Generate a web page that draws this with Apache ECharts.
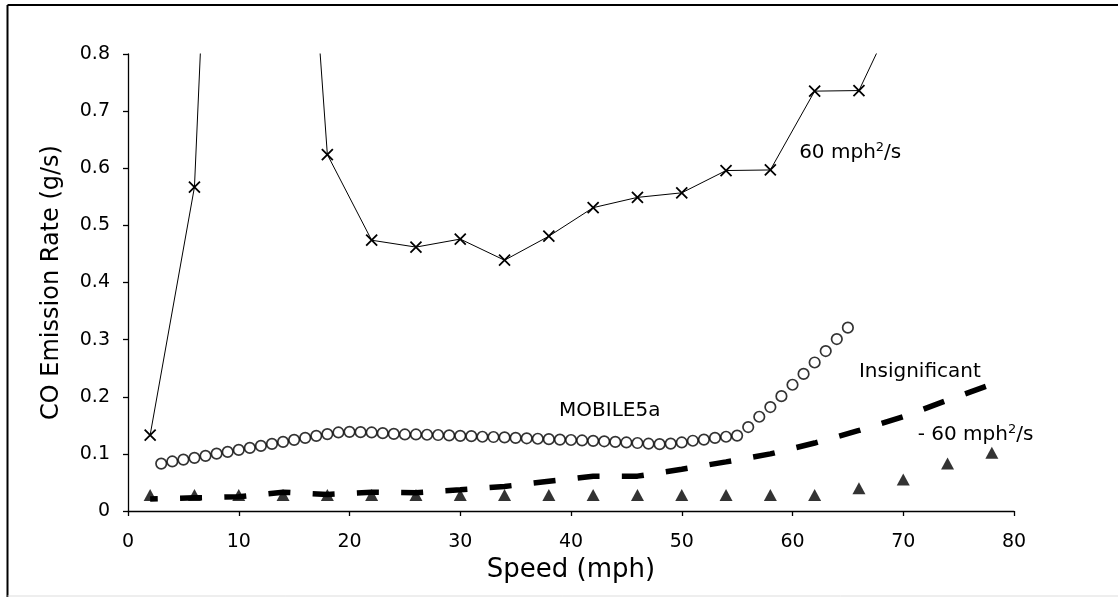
<!DOCTYPE html>
<html>
<head>
<meta charset="utf-8">
<script src="https://cdn.jsdelivr.net/npm/echarts@6/dist/echarts.min.js"></script>
<style>
html,body{margin:0;padding:0;background:#fff;}
#chart{width:1118px;height:597px;}
</style>
</head>
<body>
<div id="chart"></div>
<script>
// ---- Data ----
// 60 mph^2/s acceleration series (values above 0.8 are clipped by the axis)
const accelSpeeds = [2, 6, 10, 14, 18, 22, 26, 30, 34, 38, 42, 46, 50, 54, 58, 62, 66, 70];
const accelValues = [0.133, 0.567, 2.33, 1.71, 0.624, 0.474, 0.462, 0.476, 0.439, 0.481, 0.531, 0.549, 0.557, 0.596, 0.597, 0.735, 0.736, 0.90];

// MOBILE5a
const mobileSpeeds = [3,4,5,6,7,8,9,10,11,12,13,14,15,16,17,18,19,20,21,22,23,24,25,26,27,28,29,30,31,32,33,34,35,36,37,38,39,40,41,42,43,44,45,46,47,48,49,50,51,52,53,54,55,56,57,58,59,60,61,62,63,64,65];
const mobileValues = [0.083,0.0867,0.090,0.093,0.0965,0.1005,0.1035,0.107,0.1105,0.114,0.1175,0.121,0.1246,0.128,0.1316,0.1346,0.1375,0.1386,0.138,0.1375,0.1363,0.135,0.134,0.134,0.1335,0.133,0.1323,0.1316,0.131,0.130,0.1295,0.1288,0.128,0.1273,0.1265,0.1258,0.125,0.1243,0.1235,0.1228,0.122,0.121,0.120,0.119,0.1178,0.117,0.118,0.120,0.123,0.125,0.128,0.130,0.132,0.147,0.165,0.182,0.201,0.221,0.240,0.260,0.280,0.301,0.321];

// Insignificant acceleration (dashed)
const insigSpeeds = [2, 6, 10, 14, 18, 22, 26, 30, 34, 38, 42, 46, 50, 54, 58, 62, 66, 70, 74, 78];
const insigValues = [0.021, 0.023, 0.025, 0.033, 0.029, 0.033, 0.032, 0.037, 0.043, 0.052, 0.061, 0.061, 0.073, 0.086, 0.100, 0.119, 0.141, 0.165, 0.194, 0.222];

// -60 mph^2/s deceleration (triangles)
const decelSpeeds = [2, 6, 10, 14, 18, 22, 26, 30, 34, 38, 42, 46, 50, 54, 58, 62, 66, 70, 74, 78];
const decelValues = [0.028, 0.028, 0.028, 0.028, 0.028, 0.028, 0.028, 0.028, 0.028, 0.028, 0.028, 0.028, 0.028, 0.028, 0.028, 0.028, 0.040, 0.055, 0.083, 0.102];

// axis ticks
const xTicks = [0, 10, 20, 30, 40, 50, 60, 70, 80];
const yTicks = [0, 0.1, 0.2, 0.3, 0.4, 0.5, 0.6, 0.7, 0.8];

// annotation anchors (data coords)
const notes = [
  {name: 'accel', x: 60.6, y: 0.6275},
  {name: 'mobile', x: 43.5, y: 0.175},
  {name: 'insig', x: 71.5, y: 0.244},
  {name: 'decel', x: 71.3, y: 0.133}
];

const zip = (a, b) => a.map((v, i) => [v, b[i]]);
const FONT = 'DejaVu Sans';

const chart = echarts.init(document.getElementById('chart'), null, {renderer: 'canvas'});

const option = {
  backgroundColor: '#fff',
  animation: false,
  textStyle: {fontFamily: FONT},
  grid: {left: 128, right: 104, top: 54, bottom: 86, containLabel: false},
  xAxis: {
    type: 'value', min: xTicks[0], max: xTicks[xTicks.length - 1], interval: 10,
    name: 'Speed (mph)', nameLocation: 'middle', nameGap: 40,
    nameTextStyle: {fontFamily: FONT, fontSize: 26, color: '#000'},
    axisLine: {show: true, onZero: false, lineStyle: {color: '#000', width: 1.3}},
    axisTick: {show: true, length: 5, lineStyle: {color: '#000', width: 1.3}},
    axisLabel: {fontFamily: FONT, fontSize: 19, color: '#000', margin: 22},
    splitLine: {show: false}
  },
  yAxis: {
    type: 'value', min: yTicks[0], max: yTicks[yTicks.length - 1], interval: 0.1,
    name: 'CO Emission Rate (g/s)', nameLocation: 'middle', nameGap: 64, nameRotate: 90,
    nameTextStyle: {fontFamily: FONT, fontSize: 24, color: '#000'},
    axisLine: {show: true, onZero: false, lineStyle: {color: '#000', width: 1.3}},
    axisTick: {show: true, length: 5, lineStyle: {color: '#000', width: 1.3}},
    axisLabel: {fontFamily: FONT, fontSize: 19, color: '#000', margin: 18,
      formatter: v => (Math.round(v * 10) / 10).toString()},
    splitLine: {show: false}
  },
  series: [
    {
      name: 'Insignificant', type: 'line', data: zip(insigSpeeds, insigValues),
      showSymbol: false, symbol: 'none', clip: true, z: 2,
      lineStyle: {color: '#000', width: 5.5, type: [22, 22.3], dashOffset: 14.4, cap: 'butt'}
    },
    {
      name: '60 mph2/s', type: 'line', data: zip(accelSpeeds, accelValues),
      symbol: 'path://M0,0L10,10M10,0L0,10', symbolSize: 11, clip: true, z: 3,
      lineStyle: {color: '#000', width: 1},
      itemStyle: {color: 'none', borderColor: '#000', borderWidth: 1.8}
    },
    {
      name: 'MOBILE5a', type: 'scatter', data: zip(mobileSpeeds, mobileValues),
      symbol: 'circle', symbolSize: 10.5, z: 4,
      itemStyle: {color: '#fff', borderColor: '#000', borderWidth: 1.7}
    },
    {
      name: '-60 mph2/s', type: 'scatter', data: zip(decelSpeeds, decelValues),
      symbol: 'triangle', symbolSize: [13, 12], z: 5,
      itemStyle: {color: '#000'}
    }
  ]
};
chart.setOption(option);

function px(n) { return chart.convertToPixel({gridIndex: 0}, [n.x, n.y]); }
const p = {};
notes.forEach(n => p[n.name] = px(n));
const rich = {
  b: {fontFamily: FONT, fontSize: 20, fill: '#000'},
  sup: {fontFamily: FONT, fontSize: 13, verticalAlign: 'top', padding: [0, 0, 10, 0], fill: '#000'}
};
chart.setOption({
  graphic: [
    {type: 'line', shape: {x1: 7.5, y1: 5, x2: 1118, y2: 5}, style: {stroke: '#000', lineWidth: 2}, z: 10},
    {type: 'line', shape: {x1: 7.5, y1: 5, x2: 7.5, y2: 597}, style: {stroke: '#000', lineWidth: 2}, z: 10},
    {type: 'line', shape: {x1: 7.5, y1: 596, x2: 1118, y2: 596}, style: {stroke: '#dddddd', lineWidth: 1}, z: 10},
    {type: 'text', x: p.accel[0], y: p.accel[1], z: 10,
      style: {text: '{b|60 mph}{sup|2}{b|/s}', rich: rich, align: 'left', verticalAlign: 'middle', font: '20px ' + FONT}},
    {type: 'text', x: p.mobile[0], y: p.mobile[1], z: 10,
      style: {text: 'MOBILE5a', font: '20px ' + FONT, fill: '#000', align: 'center', verticalAlign: 'middle'}},
    {type: 'text', x: p.insig[0], y: p.insig[1], z: 10,
      style: {text: 'Insignificant', font: '20px ' + FONT, fill: '#000', align: 'center', verticalAlign: 'middle'}},
    {type: 'text', x: p.decel[0], y: p.decel[1], z: 10,
      style: {text: '{b|- 60 mph}{sup|2}{b|/s}', rich: rich, align: 'left', verticalAlign: 'middle', font: '20px ' + FONT}}
  ]
});
</script>
</body>
</html>
